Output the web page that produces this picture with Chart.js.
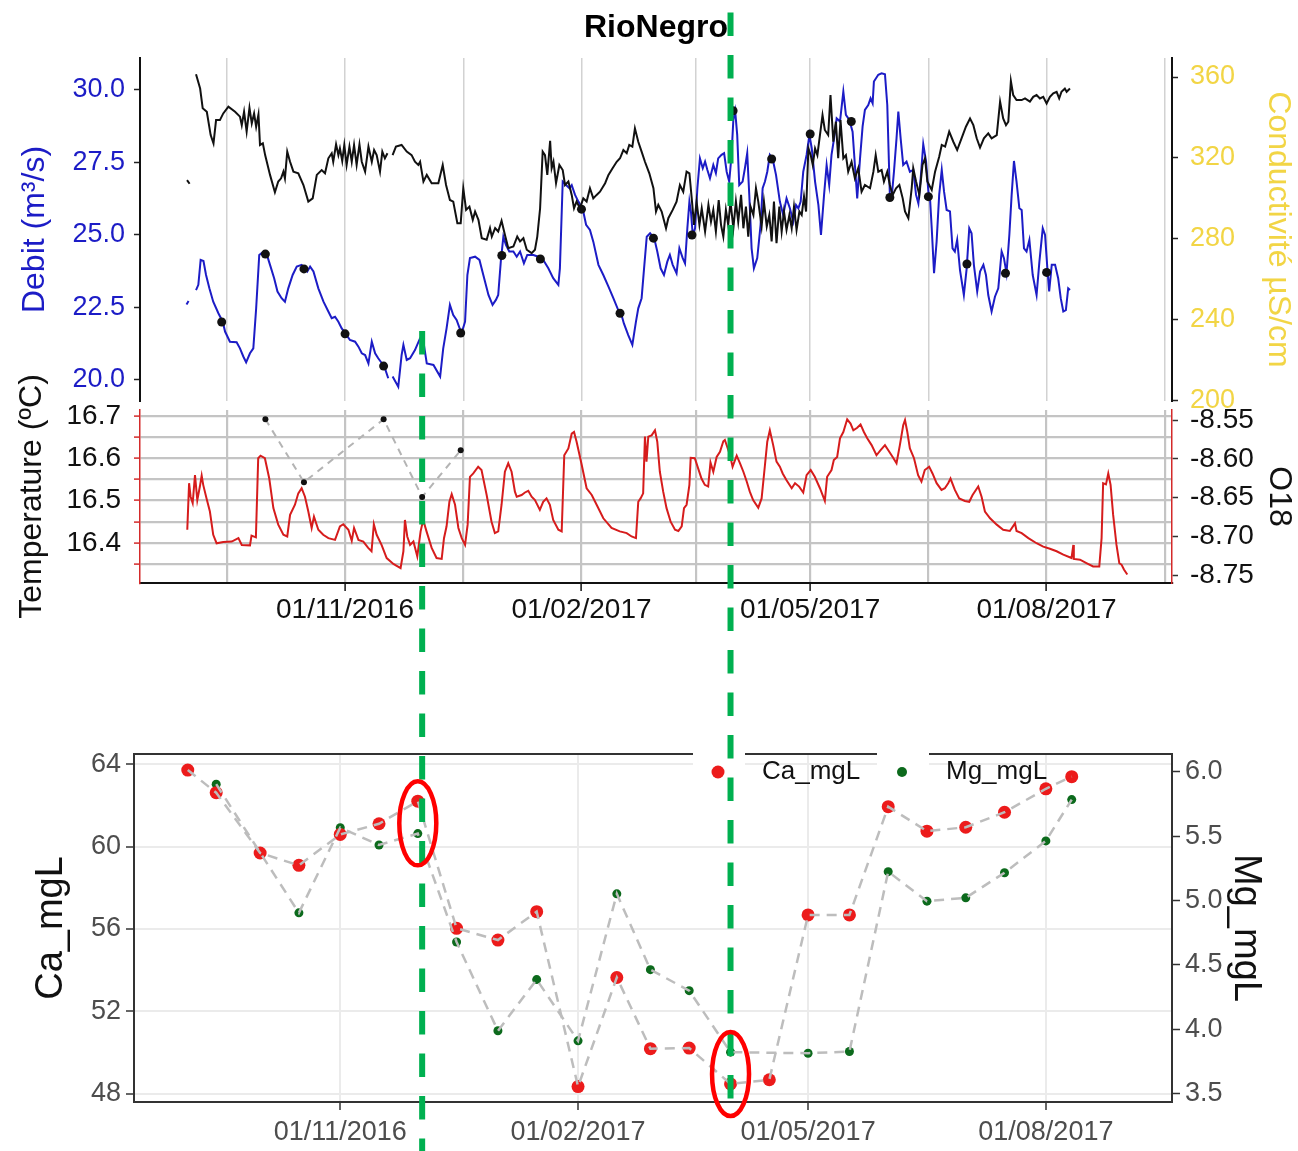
<!DOCTYPE html>
<html>
<head>
<meta charset="utf-8">
<title>RioNegro</title>
<script src="https://cdn.jsdelivr.net/npm/chart.js@4.4.0/dist/chart.umd.min.js"></script>
<style>
  html, body { margin: 0; padding: 0; background: #fff; }
  #wrap { position: relative; width: 1298px; height: 1151px; }
  #wrap canvas { position: absolute; left: 0; top: 0; }
</style>
</head>
<body>
<div id="wrap">
  <canvas id="flowChart" width="1298" height="1151"></canvas>
  <canvas id="tempChart" width="1298" height="1151"></canvas>
  <canvas id="chemChart" width="1298" height="1151"></canvas>
</div>
<script>
// days are counted from 01/08/2016
const START = Date.UTC(2016, 7, 1);
const dayOf = s => (Date.parse(s) - START) / 86400000;

const majorDates = ['2016-11-01', '2017-02-01', '2017-05-01', '2017-08-01'];
const outerDates = ['2016-08-01', '2017-11-01'];

const sampleDates = [
  '2016-09-03', '2016-09-14', '2016-10-01', '2016-10-16', '2016-11-01', '2016-11-16',
  '2016-12-01', '2016-12-16', '2017-01-01', '2017-01-16', '2017-02-01', '2017-02-16',
  '2017-03-01', '2017-03-16', '2017-04-01', '2017-04-16', '2017-05-01', '2017-05-17',
  '2017-06-01', '2017-06-16', '2017-07-01', '2017-07-16', '2017-08-01', '2017-08-11'
];

const debitSamples = [
  null, 22.00, 24.34, 23.83, 21.59, 20.48, null, 21.62, 24.29, 24.17, 25.89, 22.30,
  24.89, 25.00, 29.28, 27.62, 28.48, 28.91, 26.29, 26.32, 24.00, 23.68, 23.71, null
];

const o18Samples = [
  null, null, -8.549, -8.630, null, -8.549, -8.649, -8.589, null, null, null, null,
  null, null, null, null, null, null, null, null, null, null, null, null
];

const caValues = [
  63.72, 62.62, 59.69, 59.09, 60.59, 61.11, 62.21, 56.03, 55.46, 56.84, 48.34, 53.64,
  50.18, 50.21, 48.47, 48.67, 56.68, 56.68, 61.94, 60.75, 60.94, 61.67, 62.81, 63.40
];

const mgValues = [
  null, 5.904, 5.372, 4.904, 5.566, 5.431, 5.520, 4.678, 3.988, 4.386, 3.910, 5.052,
  4.463, 4.300, 3.822, null, 3.814, 3.827, 5.224, 4.995, 5.021, 5.216, 5.463, 5.784
];

// [day, m3/s]
const debit = [
  [30.3,22.60],[31.1,22.72],[32.5,null],
  [34.0,23.10],[34.9,23.28],[35.8,24.14],[36.9,24.10],[37.9,23.62],[39.2,23.16],[40.7,22.70],[42.7,22.30],[44.4,22.01],[45.3,21.67],
  [47.2,21.32],[49.8,21.30],[51.1,21.09],[52.4,20.81],[53.5,20.61],[55.0,20.92],[56.3,21.09],[57.4,22.47],[58.6,24.31],[60.2,24.42],
  [61.5,24.34],[62.8,23.97],[64.4,23.51],[65.7,23.05],[67.3,22.82],[68.6,22.70],[69.9,23.16],[71.6,23.62],[73.2,23.91],[75.1,23.97],
  [76.2,23.85],[77.3,23.74],[78.4,23.91],[79.7,23.74],[81.6,23.16],[83.6,22.70],[85.5,22.36],[86.8,22.13],[88.1,22.18],[89.4,22.01],
  [90.7,21.78],[92.2,21.60],[93.9,21.38],[95.9,21.32],[97.2,21.15],[98.5,20.92],[99.8,20.86],[101.1,20.57],[102.4,21.32],[103.7,20.92],
  [104.9,20.75],[105.9,20.63],[107.3,20.46],[108.8,20.06],[109.6,null],[110.5,20.12],[112.7,19.77],[114.0,20.86],[114.7,21.21],
  [116.0,20.69],[117.3,20.75],[119.2,21.03],[121.2,21.44],[122.2,21.49],[123.8,20.57],[126.4,20.52],[129.0,20.12],[130.2,21.09],
  [131.5,21.78],[132.8,22.59],[134.1,22.24],[135.4,22.07],[137.3,21.61],[138.7,22.01],[139.6,23.62],[140.6,24.20],[142.6,24.25],
  [144.3,24.14],[145.8,23.62],[147.8,22.93],[149.4,22.59],[150.7,22.76],[151.6,22.93],[152.6,24.08],[153.6,24.94],[154.6,24.66],
  [155.9,24.43],[157.5,24.43],[158.8,24.25],[160.1,24.43],[161.6,24.02],[162.9,24.31],[165.3,24.31],[167.2,24.25],[168.9,24.17],
  [171.1,23.85],[173.0,23.51],[175.0,23.28],[175.6,23.85],[176.7,26.84],[178.0,26.72],[179.3,26.61],[180.2,26.72],[181.5,26.38],
  [182.8,26.15],[184.5,25.89],[185.8,25.35],[187.3,25.17],[188.6,24.77],[190.6,23.97],[192.5,23.62],[194.5,23.22],[196.4,22.82],
  [198.3,22.41],[199.4,22.30],[200.5,21.95],[202.2,21.55],[203.8,21.21],[205.2,22.01],[206.1,22.47],[207.4,22.82],[208.3,23.79],
  [209.4,24.94],[210.7,25.06],[212.3,24.89],[213.5,24.43],[214.8,23.85],[216.1,23.62],[217.4,24.08],[218.4,24.31],[219.5,23.97],
  [221.0,23.68],[222.1,24.54],[223.4,24.20],[224.3,24.02],[225.2,25.23],[226.0,26.15],[226.6,25.80],[227.3,25.00],[228.2,25.23],
  [229.1,26.61],[230.1,27.64],[231.2,27.30],[232.1,27.53],[233.0,27.24],[234.0,26.95],[235.3,27.41],[236.3,27.13],[237.2,27.64],
  [238.5,27.76],[239.5,27.82],[240.5,27.18],[241.5,26.84],[242.4,27.76],[243.1,28.97],[243.8,29.28],[244.6,28.45],[245.4,26.72],
  [246.7,26.84],[247.6,27.30],[248.5,27.82],[249.3,26.38],[250.2,24.54],[251.1,23.85],[252.4,24.20],[253.7,25.35],[254.5,26.61],
  [255.4,26.84],[256.3,27.18],[257.3,27.76],[258.4,27.62],[259.7,27.07],[261.2,26.15],[262.5,25.69],[263.8,26.26],[265.1,25.92],
  [266.4,25.46],[267.5,26.03],[268.4,25.92],[269.3,26.15],[270.3,27.18],[271.6,27.76],[272.7,28.45],[273.6,27.99],[274.9,26.84],
  [276.2,26.03],[277.2,25.00],[278.4,26.38],[279.4,27.41],[280.4,26.72],[281.3,27.76],[282.3,28.33],[283.3,29.02],[284.6,28.91],
  [285.9,29.94],[286.9,29.14],[288.2,28.97],[289.5,28.56],[290.4,27.41],[291.3,26.26],[292.4,27.64],[293.4,28.74],[294.3,29.31],
  [295.6,29.48],[296.5,29.71],[297.3,29.54],[297.8,30.29],[299.5,30.52],[300.8,30.57],[302.1,30.54],[303.0,29.48],[304.0,26.38],
  [304.7,26.29],[305.6,27.18],[306.6,28.33],[307.3,29.25],[308.2,28.33],[309.2,27.41],[310.5,27.53],[311.8,27.18],[313.1,27.24],
  [314.2,26.38],[315.1,26.09],[316.0,26.95],[317.0,28.13],[318.1,27.53],[319.0,26.49],[319.6,26.32],[320.3,25.23],[321.2,23.68],
  [322.2,24.77],[323.2,26.38],[324.2,27.24],[325.1,26.49],[326.1,25.86],[327.4,25.81],[328.4,24.54],[329.3,24.43],[330.2,24.83],
  [331.3,23.79],[332.8,22.93],[333.9,23.85],[334.9,25.23],[335.8,25.06],[336.7,23.97],[338.0,23.05],[339.1,23.74],[340.4,23.97],
  [341.4,23.62],[342.3,22.93],[343.6,22.36],[344.9,22.87],[346.2,23.16],[347.5,24.43],[348.4,24.20],[349.4,23.68],[350.5,25.00],
  [351.4,26.38],[352.3,27.55],[353.3,26.84],[354.4,25.92],[355.3,25.86],[356.2,24.54],[357.2,24.43],[358.3,24.83],[359.6,23.62],
  [361.1,22.93],[362.2,24.08],[363.5,25.23],[364.4,25.00],[365.3,23.85],[366.0,23.05],[367.0,23.97],[368.3,23.97],[369.5,23.51],
  [370.5,22.82],[371.5,22.36],[372.5,22.41],[373.4,23.16],[374.1,23.10]
];

// [day, µS/cm]
const conductivity = [
  [30.5,309.0],[31.5,307.2],[32.5,null],
  [34.0,361.4],[35.6,354.3],[36.6,344.5],[38.2,342.8],[39.7,331.3],[40.8,327.2],[41.8,338.7],[43.3,338.7],[44.6,342.0],[46.6,345.3],
  [49.2,342.8],[51.1,340.4],[51.8,336.2],[52.7,342.8],[53.7,333.0],[54.8,344.8],[55.7,337.1],[56.6,342.0],[57.4,335.4],[58.3,341.5],
  [58.9,326.4],[60.0,327.2],[60.9,321.4],[62.8,311.6],[64.7,303.0],[66.0,308.3],[67.1,309.9],[68.0,313.2],[68.6,309.9],[69.5,323.1],
  [70.6,318.1],[71.9,313.2],[73.8,312.4],[75.8,306.6],[77.7,298.4],[79.4,300.0],[81.0,311.6],[82.9,314.0],[84.2,312.4],[85.5,319.8],
  [86.8,322.3],[87.4,318.1],[88.5,326.7],[89.4,321.4],[90.0,324.7],[90.9,318.5],[91.7,326.4],[92.6,316.5],[93.7,325.6],[94.6,318.1],
  [95.5,326.4],[96.5,316.5],[97.6,326.7],[98.5,318.1],[99.8,313.2],[101.1,325.6],[102.4,318.1],[103.3,323.9],[104.3,321.4],
  [105.6,313.2],[106.5,323.1],[107.5,319.8],[108.5,322.3],[109.5,null],[110.5,321.4],[111.8,325.6],[114.0,326.4],[116.0,323.1],
  [117.9,321.4],[119.2,318.1],[120.5,316.5],[121.2,318.1],[122.5,308.3],[123.8,311.6],[125.7,307.5],[128.3,307.5],[130.0,316.5],
  [131.3,306.6],[132.8,299.2],[134.1,298.4],[135.7,287.7],[137.0,287.7],[138.0,305.0],[139.1,294.3],[140.4,295.9],[141.7,289.4],
  [142.6,293.5],[143.9,289.4],[145.2,280.3],[147.1,279.5],[148.4,285.3],[149.1,281.1],[150.4,285.3],[151.6,283.6],[152.9,288.9],
  [154.2,282.0],[155.5,275.4],[157.5,276.2],[159.0,281.1],[160.1,278.7],[161.4,280.3],[162.7,274.6],[164.6,272.9],[165.9,274.6],
  [166.8,281.1],[167.9,295.1],[168.9,323.1],[169.8,321.4],[170.7,311.6],[171.8,328.4],[172.4,314.9],[173.1,318.1],[174.1,307.5],
  [175.4,316.5],[176.7,314.0],[177.6,306.6],[178.9,308.3],[180.2,301.7],[181.1,295.1],[182.1,298.4],[183.4,295.1],[184.7,300.0],
  [186.0,298.4],[187.3,305.0],[188.6,300.0],[189.9,301.7],[191.2,303.3],[193.2,307.5],[194.5,311.6],[196.1,314.9],[197.7,318.1],
  [199.0,319.8],[200.3,323.9],[201.6,322.3],[202.6,326.4],[203.8,325.6],[204.8,334.6],[206.1,328.0],[207.4,323.1],[208.7,318.1],
  [210.4,312.4],[212.0,305.0],[213.0,293.5],[213.9,296.8],[215.2,293.5],[216.9,285.2],[217.8,290.2],[219.5,294.3],[221.0,298.4],
  [222.3,306.6],[223.6,303.3],[224.9,313.2],[226.0,312.4],[226.9,300.0],[227.8,286.9],[228.8,298.4],[229.9,286.9],[230.8,295.1],
  [232.1,283.6],[233.4,296.8],[234.4,288.5],[235.3,294.3],[236.3,283.6],[237.4,299.2],[238.3,286.9],[239.2,281.1],[240.2,294.3],
  [241.1,286.9],[242.0,298.4],[243.1,285.2],[244.1,298.4],[245.0,288.5],[246.1,301.7],[247.0,285.2],[248.0,295.9],[248.9,281.1],
  [249.8,295.9],[250.9,291.8],[251.9,305.0],[252.8,298.4],[254.1,286.1],[255.0,298.4],[256.1,286.1],[257.1,291.8],[258.0,278.7],
  [258.9,298.4],[259.9,277.8],[261.0,295.9],[261.9,283.6],[262.8,293.5],[263.8,284.4],[264.9,291.8],[265.8,285.2],[266.7,295.9],
  [267.7,284.4],[268.8,293.5],[269.7,291.8],[270.6,300.9],[271.4,293.5],[272.3,324.7],[273.2,321.4],[274.0,316.5],[274.9,324.7],
  [275.8,321.4],[276.8,331.3],[277.8,341.2],[278.7,333.8],[280.0,331.3],[280.9,351.1],[282.0,328.0],[283.0,337.9],[283.9,319.8],
  [284.8,338.7],[285.9,319.8],[286.9,321.4],[287.8,313.2],[289.1,318.1],[290.4,309.9],[291.7,314.9],[293.0,303.3],[294.3,306.6],
  [296.3,305.0],[297.6,313.2],[298.5,321.4],[299.5,313.2],[300.8,314.0],[301.7,308.3],[303.0,313.2],[304.0,306.6],[305.1,301.7],
  [306.4,305.0],[307.7,306.6],[309.0,300.0],[309.9,293.5],[311.2,290.2],[312.5,305.0],[313.1,314.9],[314.2,308.3],[315.5,301.7],
  [316.7,316.5],[317.7,319.8],[318.6,308.3],[320.3,304.2],[321.6,313.2],[323.2,320.6],[324.2,326.4],[325.5,325.6],[327.1,333.0],
  [328.7,328.0],[330.2,323.9],[331.9,329.7],[333.6,335.4],[335.2,339.5],[336.5,336.2],[337.8,329.7],[339.1,325.1],[340.6,329.7],
  [342.3,332.1],[343.6,329.7],[345.6,331.3],[346.9,347.8],[348.1,339.5],[349.2,336.2],[350.1,337.9],[351.1,358.0],[352.0,351.1],
  [353.3,348.6],[355.3,348.6],[356.6,349.4],[358.5,347.8],[359.8,350.2],[361.1,351.1],[362.4,349.4],[363.7,350.2],[365.0,346.9],
  [366.3,350.2],[367.6,351.9],[368.9,352.7],[369.9,349.4],[370.8,352.7],[372.1,354.3],[372.8,352.7],[374.1,354.3]
];

// [day, °C]
const temperature = [
  [30.6,16.431],[31.3,16.541],[31.9,16.509],[32.7,16.494],[33.6,16.560],[34.5,16.501],[35.5,16.533],[36.2,16.559],[36.8,16.537],
  [38.1,16.505],[39.4,16.474],[40.7,16.419],[42.0,16.399],[44.6,16.402],[47.9,16.403],[50.5,16.411],[51.8,16.395],[55.0,16.394],
  [55.6,16.417],[57.3,16.413],[58.2,16.600],[59.1,16.606],[60.8,16.600],[62.5,16.552],[64.1,16.482],[66.0,16.443],[68.0,16.419],
  [69.5,16.415],[70.6,16.466],[72.5,16.490],[73.8,16.517],[75.1,16.529],[76.4,16.509],[77.7,16.474],[79.0,16.435],[79.9,16.462],
  [81.6,16.431],[83.5,16.419],[85.5,16.411],[88.1,16.407],[90.0,16.439],[91.3,16.444],[93.3,16.431],[94.6,16.405],[95.5,16.435],
  [97.2,16.407],[99.1,16.403],[101.0,16.388],[102.3,16.380],[103.2,16.444],[104.3,16.419],[106.2,16.395],[108.2,16.364],
  [110.8,16.350],[113.6,16.340],[114.7,16.380],[115.3,16.454],[116.2,16.415],[117.3,16.395],[118.6,16.403],[120.1,16.368],
  [121.4,16.427],[122.4,16.454],[123.7,16.427],[125.7,16.388],[127.6,16.364],[129.6,16.362],[130.5,16.411],[131.5,16.439],
  [132.6,16.497],[133.5,16.515],[134.8,16.490],[136.1,16.435],[137.4,16.411],[138.7,16.395],[139.7,16.443],[140.6,16.556],
  [141.9,16.564],[143.8,16.580],[145.1,16.572],[147.1,16.513],[149.0,16.450],[150.3,16.423],[151.6,16.427],[152.9,16.490],
  [154.2,16.568],[155.5,16.588],[156.8,16.568],[158.1,16.521],[158.8,16.509],[160.7,16.513],[162.0,16.519],[163.3,16.523],
  [164.6,16.509],[165.9,16.501],[167.8,16.478],[169.1,16.497],[170.4,16.505],[171.7,16.490],[173.0,16.454],[175.0,16.431],
  [176.3,16.427],[177.3,16.607],[178.9,16.623],[180.2,16.658],[181.1,16.662],[182.1,16.639],[184.1,16.584],[186.0,16.529],
  [188.0,16.513],[189.9,16.490],[192.5,16.458],[195.7,16.435],[198.9,16.427],[201.6,16.423],[203.5,16.415],[205.2,16.411],
  [206.1,16.497],[207.0,16.505],[208.0,16.517],[208.7,16.651],[209.3,16.592],[210.0,16.651],[211.3,16.654],[212.6,16.666],
  [213.5,16.639],[214.5,16.568],[215.8,16.521],[217.1,16.482],[218.7,16.450],[220.4,16.431],[221.7,16.428],[223.0,16.439],
  [223.9,16.482],[224.9,16.490],[226.0,16.537],[226.5,16.601],[228.1,16.600],[229.4,16.576],[230.7,16.552],[232.0,16.537],
  [233.3,16.533],[234.2,16.590],[235.3,16.568],[236.6,16.603],[237.9,16.615],[239.2,16.640],[239.8,16.643],[240.7,16.627],
  [241.8,16.607],[242.8,16.580],[244.4,16.606],[245.7,16.588],[247.0,16.568],[248.3,16.545],[249.5,16.521],[250.8,16.501],
  [252.8,16.483],[254.1,16.505],[255.4,16.584],[256.3,16.639],[257.3,16.666],[258.6,16.631],[259.9,16.592],[261.2,16.580],
  [262.3,16.564],[263.8,16.548],[265.8,16.529],[267.1,16.541],[268.7,16.533],[270.3,16.519],[271.6,16.560],[273.2,16.572],
  [274.8,16.556],[276.8,16.529],[278.7,16.499],[279.6,16.556],[281.3,16.572],[282.2,16.596],[283.5,16.603],[284.6,16.647],
  [285.9,16.662],[287.4,16.692],[288.7,16.682],[289.8,16.666],[291.3,16.672],[292.6,16.680],[293.9,16.662],[295.2,16.647],
  [296.9,16.631],[298.8,16.607],[300.4,16.619],[302.1,16.631],[303.4,16.619],[305.1,16.603],[306.6,16.588],[307.9,16.631],
  [309.2,16.678],[309.9,16.690],[310.8,16.662],[311.8,16.623],[313.4,16.600],[315.0,16.560],[316.3,16.545],[317.6,16.572],
  [319.3,16.580],[320.6,16.564],[322.2,16.541],[324.1,16.525],[325.4,16.529],[326.7,16.541],[327.6,16.552],[329.3,16.525],
  [331.0,16.505],[333.2,16.499],[334.9,16.497],[336.2,16.513],[338.4,16.533],[339.7,16.509],[341.0,16.474],[343.0,16.458],
  [345.6,16.443],[348.1,16.431],[350.7,16.428],[352.7,16.446],[353.3,16.428],[355.3,16.423],[357.9,16.411],[361.1,16.399],
  [363.7,16.391],[366.3,16.386],[368.9,16.380],[371.5,16.372],[374.7,16.364],[375.4,16.395],[375.6,16.362],[378.0,16.360],
  [380.5,16.352],[383.1,16.344],[385.5,16.344],[386.4,16.411],[387.0,16.541],[388.1,16.538],[389.0,16.564],[389.9,16.537],
  [390.9,16.466],[392.2,16.395],[393.3,16.352],[394.2,16.348],[395.1,16.337],[396.4,16.325]
];

const eventLines = [
  { date: '2016-12-01', from: 331, to: 1151 },
  { date: '2017-03-31', from: 12.5, to: 1100 }
];
const circledSamples = ['2016-12-01', '2017-04-01'];

const H = 1151;
const X_MIN = 12.2;
const X_MAX = 413.8;
const SANS = '"Liberation Sans", Arial, sans-serif';
const BLUE = '#1c1cc6';
const GOLD = '#f2d545';
const CLEAR = 'rgba(0,0,0,0)';

Chart.defaults.font.family = SANS;
Chart.defaults.animation = false;
Chart.defaults.events = [];

const toXY = rows => rows.map(([d, v]) => ({ x: d, y: v }));
const bySample = values => sampleDates.map((s, i) => ({ x: dayOf(s), y: values[i] }));

function fmtDay(d) {
  const t = new Date(START + Math.round(d) * 86400000);
  const p = n => String(n).padStart(2, '0');
  return p(t.getUTCDate()) + '/' + p(t.getUTCMonth() + 1) + '/' + t.getUTCFullYear();
}

// quarterly breaks plus the midpoints between them
const bounds = [outerDates[0], ...majorDates, outerDates[1]].map(dayOf);
const xBreaks = [];
for (let i = 0; i < bounds.length - 1; i++) {
  if (i > 0) xBreaks.push({ value: bounds[i], minor: false });
  xBreaks.push({ value: (bounds[i] + bounds[i + 1]) / 2, minor: true });
}

function dateAxis(o) {
  return {
    type: 'linear',
    min: X_MIN,
    max: X_MAX,
    afterBuildTicks: s => { s.ticks = xBreaks.map(b => ({ value: b.value, minor: b.minor })); },
    afterFit: s => { s.height = o.height; s.paddingLeft = 0; s.paddingRight = 0; },
    ticks: {
      display: !!o.font,
      autoSkip: false,
      maxRotation: 0,
      padding: o.pad || 0,
      color: o.labelColor,
      font: o.font,
      callback: (v, i, ticks) => (ticks[i].minor ? '' : fmtDay(v))
    },
    grid: {
      color: c => (c.tick && c.tick.minor && !o.minorGrid ? CLEAR : o.gridColor),
      lineWidth: o.gridWidth,
      drawTicks: !!o.tickColor,
      tickLength: 8,
      tickWidth: 1.5,
      tickColor: c => (c.tick && c.tick.minor ? CLEAR : o.tickColor)
    },
    border: o.border ? { display: true, color: o.border, width: 2 } : { display: false }
  };
}

function valueAxis(o) {
  return {
    type: 'linear',
    position: o.position,
    min: o.min,
    max: o.max,
    afterBuildTicks: s => { s.ticks = o.values.map(v => ({ value: v })); },
    afterFit: s => { s.width = o.width; s.paddingTop = 0; s.paddingBottom = 0; },
    ticks: { autoSkip: false, color: o.labelColor, font: o.font, padding: o.pad, callback: o.format },
    grid: {
      drawOnChartArea: !!o.gridColor,
      color: o.gridColor || CLEAR,
      lineWidth: o.gridWidth || 1,
      tickLength: o.tickLength,
      tickWidth: 1.5,
      tickColor: o.tickColor
    },
    border: { display: true, color: o.borderColor, width: o.borderWidth || 2 },
    title: {
      display: true,
      text: o.title,
      color: o.titleColor,
      font: o.titleFont,
      padding: { top: o.titlePad, bottom: 0 }
    }
  };
}

const baseOptions = {
  responsive: false,
  devicePixelRatio: 1,
  plugins: { legend: { display: false }, tooltip: { enabled: false } }
};

const flowChart = new Chart(document.getElementById('flowChart'), {
  type: 'scatter',
  data: {
    datasets: [
      {
        label: 'Debit samples',
        data: bySample(debitSamples),
        yAxisID: 'yD',
        pointRadius: 4.5,
        backgroundColor: '#111',
        borderWidth: 0,
        order: 0
      },
      {
        label: 'Conductivité',
        data: toXY(conductivity),
        yAxisID: 'yC',
        showLine: true,
        borderColor: '#111',
        borderWidth: 2,
        pointRadius: 0,
        order: 1
      },
      {
        label: 'Debit',
        data: toXY(debit),
        yAxisID: 'yD',
        showLine: true,
        borderColor: BLUE,
        borderWidth: 2,
        pointRadius: 0,
        order: 2
      }
    ]
  },
  options: {
    ...baseOptions,
    layout: { padding: 0 },
    plugins: {
      ...baseOptions.plugins,
      title: {
        display: true,
        text: 'RioNegro',
        fullSize: false,
        color: '#000',
        font: { size: 32, weight: 'bold' },
        padding: { top: 9, bottom: 10.6 }
      }
    },
    scales: {
      x: dateAxis({ height: H - 401, gridColor: '#d2d2d2', gridWidth: 1.5, minorGrid: true }),
      yD: valueAxis({
        position: 'left', min: 19.276, max: 31.1, values: [20, 22.5, 25, 27.5, 30],
        format: v => v.toFixed(1), width: 140, labelColor: BLUE, font: { size: 27 }, pad: 9,
        tickLength: 6, tickColor: '#222', borderColor: '#111',
        title: 'Debit (m³/s)', titleColor: BLUE, titleFont: { size: 32 }, titlePad: 16
      }),
      yC: valueAxis({
        position: 'right', min: 199.8, max: 369.4, values: [200, 240, 280, 320, 360],
        format: v => String(v), width: 126, labelColor: GOLD, font: { size: 27 }, pad: 12,
        tickLength: 6, tickColor: '#222', borderColor: '#111',
        title: 'Conductivité µS/cm', titleColor: GOLD, titleFont: { size: 32 }, titlePad: 1
      })
    }
  }
});

const tempChart = new Chart(document.getElementById('tempChart'), {
  type: 'scatter',
  data: {
    datasets: [
      {
        label: 'O18',
        data: bySample(o18Samples),
        yAxisID: 'yO',
        showLine: true,
        spanGaps: true,
        borderColor: '#b4b4b4',
        borderWidth: 2,
        borderDash: [7, 6],
        pointRadius: 3,
        pointBackgroundColor: '#111',
        pointBorderWidth: 0,
        order: 0
      },
      {
        label: 'Temperature',
        data: toXY(temperature),
        yAxisID: 'yT',
        showLine: true,
        borderColor: '#d61c1c',
        borderWidth: 2,
        pointRadius: 0,
        order: 1
      }
    ]
  },
  options: {
    ...baseOptions,
    layout: { padding: { top: 410, left: 0, right: 0, bottom: 0 } },
    scales: {
      x: dateAxis({
        height: H - 583, gridColor: '#c4c4c4', gridWidth: 2.2, minorGrid: true,
        font: { size: 28 }, labelColor: '#111', pad: 2, tickColor: '#111', border: '#111'
      }),
      yT: valueAxis({
        position: 'left', min: 16.305, max: 16.714,
        values: [16.35, 16.4, 16.45, 16.5, 16.55, 16.6, 16.65, 16.7],
        format: v => (Math.round(v * 100) % 10 === 0 ? v.toFixed(1) : ''),
        width: 140, labelColor: '#111', font: { size: 28 }, pad: 13,
        gridColor: '#c4c4c4', gridWidth: 2.2, tickLength: 6, tickColor: '#d42a2a',
        borderColor: '#d42a2a', borderWidth: 1.5,
        title: 'Temperature (ºC)', titleColor: '#111', titleFont: { size: 32 }, titlePad: 13
      }),
      yO: valueAxis({
        position: 'right', min: -8.760, max: -8.537,
        values: [-8.75, -8.7, -8.65, -8.6, -8.55],
        format: v => v.toFixed(2), width: 126, labelColor: '#111', font: { size: 28 }, pad: 12,
        tickLength: 6, tickColor: '#333', borderColor: '#d42a2a', borderWidth: 1.5,
        title: 'O18', titleColor: '#111', titleFont: { size: 32 }, titlePad: 0
      })
    }
  }
});

const legendSlots = [693, 877];

const keyLegend = {
  id: 'keyLegend',
  afterDraw(chart) {
    const { ctx, chartArea } = chart;
    const keyed = chart.data.datasets.filter(ds => !ds.showLine);
    const cy = chartArea.top + 18;
    ctx.save();
    keyed.forEach((ds, i) => {
      const bx = legendSlots[i];
      ctx.fillStyle = '#fff';
      ctx.fillRect(bx, chartArea.top - 10, 52, 52);
      ctx.fillStyle = ds.backgroundColor;
      ctx.beginPath();
      ctx.arc(bx + 25, cy, i === 0 ? 6.5 : 5, 0, Math.PI * 2);
      ctx.fill();
      ctx.fillStyle = '#111';
      ctx.font = '26px ' + SANS;
      ctx.textBaseline = 'middle';
      ctx.textAlign = 'left';
      ctx.fillText(ds.label, bx + 69, cy);
    });
    ctx.restore();
  }
};

const markings = {
  id: 'markings',
  afterDraw(chart) {
    const { ctx } = chart;
    const xTop = flowChart.scales.x;
    ctx.save();
    ctx.strokeStyle = '#00b050';
    ctx.lineWidth = 6;
    ctx.setLineDash([23.5, 19]);
    eventLines.forEach(m => {
      const x = xTop.getPixelForValue(dayOf(m.date));
      ctx.beginPath();
      ctx.moveTo(x, m.from);
      ctx.lineTo(x, m.to);
      ctx.stroke();
    });
    ctx.setLineDash([]);
    ctx.strokeStyle = '#ff0000';
    ctx.lineWidth = 4.5;
    circledSamples.forEach(s => {
      const i = sampleDates.indexOf(s);
      const x = chart.scales.x.getPixelForValue(dayOf(s));
      const y = (chart.scales.yCa.getPixelForValue(caValues[i]) + chart.scales.yMg.getPixelForValue(mgValues[i])) / 2 + 6;
      ctx.beginPath();
      ctx.ellipse(x, y, 18.5, 42, 0, 0, Math.PI * 2);
      ctx.stroke();
    });
    ctx.restore();
  }
};

const chemChart = new Chart(document.getElementById('chemChart'), {
  type: 'scatter',
  data: {
    datasets: [
      {
        label: 'Ca_mgL',
        data: bySample(caValues),
        yAxisID: 'yCa',
        pointRadius: 6.5,
        backgroundColor: '#ec1b1b',
        borderWidth: 0,
        order: 1
      },
      {
        label: 'Mg_mgL',
        data: bySample(mgValues),
        yAxisID: 'yMg',
        pointRadius: 4.5,
        backgroundColor: '#0c6a1c',
        borderWidth: 0,
        order: 1
      },
      {
        label: 'Ca trend',
        data: bySample(caValues),
        yAxisID: 'yCa',
        showLine: true,
        borderColor: '#bdbdbd',
        borderWidth: 2.5,
        borderDash: [10, 7],
        pointRadius: 0,
        order: 0
      },
      {
        label: 'Mg trend',
        data: bySample(mgValues),
        yAxisID: 'yMg',
        showLine: true,
        spanGaps: true,
        borderColor: '#bdbdbd',
        borderWidth: 2.5,
        borderDash: [10, 7],
        pointRadius: 0,
        order: 0
      }
    ]
  },
  options: {
    ...baseOptions,
    layout: { padding: { top: 754, left: 0, right: 0, bottom: 0 } },
    scales: {
      x: dateAxis({
        height: H - 1102, gridColor: '#ebebeb', gridWidth: 2,
        font: { size: 27 }, labelColor: '#4d4d4d', pad: 6, tickColor: '#333', border: '#333'
      }),
      xTop: {
        type: 'linear',
        position: 'top',
        min: 0,
        max: 1,
        afterFit: s => { s.height = 0; s.paddingLeft = 0; s.paddingRight = 0; },
        ticks: { display: false },
        grid: { display: false },
        border: { display: true, color: '#333', width: 2 }
      },
      yCa: valueAxis({
        position: 'left', min: 47.59, max: 64.5, values: [48, 52, 56, 60, 64],
        format: v => String(v), width: 134, labelColor: '#4d4d4d', font: { size: 27 }, pad: 5,
        gridColor: '#ebebeb', gridWidth: 2, tickLength: 8, tickColor: '#333', borderColor: '#333',
        title: 'Ca_mgL', titleColor: '#111', titleFont: { size: 38 }, titlePad: 29
      }),
      yMg: valueAxis({
        position: 'right', min: 3.435, max: 6.138, values: [3.5, 4, 4.5, 5, 5.5, 6],
        format: v => v.toFixed(1), width: 126, labelColor: '#4d4d4d', font: { size: 27 }, pad: 5,
        tickLength: 8, tickColor: '#333', borderColor: '#333',
        title: 'Mg_mgL', titleColor: '#111', titleFont: { size: 38 }, titlePad: 30
      })
    }
  },
  plugins: [keyLegend, markings]
});
</script>
</body>
</html>
